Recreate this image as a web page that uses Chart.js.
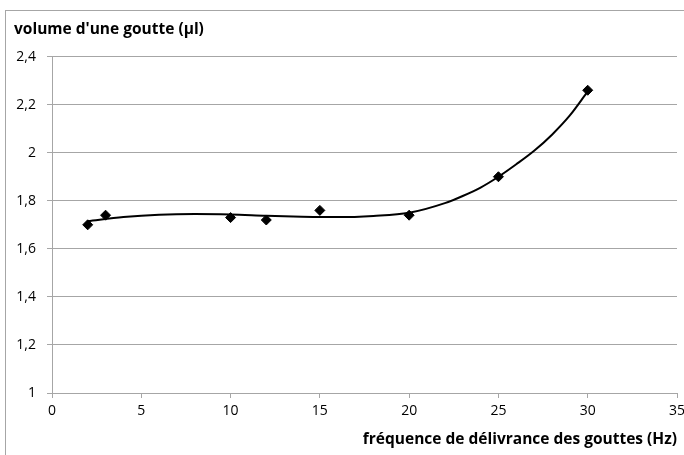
<!DOCTYPE html>
<html>
<head>
    <title>Volume d'une goutte</title>
    <script src="https://cdn.jsdelivr.net/npm/chart.js"></script>
    <style>
        html, body { margin: 0; padding: 0; background: #fff; overflow: hidden; }
        #box {
            position: absolute;
            left: 5px;
            top: 10px;
            width: 700px;
            height: 450px;
            border: 1px solid #a6a6a6;
        }
    </style>
</head>
<body>
    <div id="box">
        <canvas id="dropChart" width="700" height="450"></canvas>
    </div>
    <script>
        // mesures
        const freq = [2, 3, 10, 12, 15, 20, 25, 30];
        const volume = [1.70, 1.74, 1.73, 1.72, 1.76, 1.74, 1.90, 2.26];

        // courbe de tendance
        const trendFreq = [2, 4, 6, 8, 10, 12, 14, 16, 18, 20, 22, 23, 24, 25, 26, 27, 28, 29, 30];
        const trendVolume = [1.715, 1.732, 1.742, 1.745, 1.743, 1.738, 1.734, 1.732, 1.737, 1.750, 1.790, 1.820, 1.855, 1.900, 1.952, 2.008, 2.075, 2.155, 2.255];

        const yTitle = "volume d'une goutte (µl)";
        const xTitle = 'fréquence de délivrance des gouttes (Hz)';

        const gray = '#a6a6a6';
        const tickFont = { family: 'Open Sans', size: 14 };
        const titleFont = { family: 'Open Sans', size: 15.5, weight: 'bold' };

        const ctx = document.getElementById('dropChart').getContext('2d');
        new Chart(ctx, {
            type: 'scatter',
            data: {
                datasets: [
                    {
                        label: 'mesures',
                        data: freq.map((f, i) => ({ x: f, y: volume[i] })),
                        pointStyle: 'rectRot',
                        pointRadius: 5,
                        backgroundColor: '#000',
                        borderColor: '#000',
                        showLine: false
                    },
                    {
                        label: 'tendance',
                        data: trendFreq.map((f, i) => ({ x: f, y: trendVolume[i] })),
                        showLine: true,
                        pointRadius: 0,
                        borderColor: '#000',
                        borderWidth: 2,
                        cubicInterpolationMode: 'monotone'
                    }
                ]
            },
            options: {
                responsive: false,
                animation: false,
                layout: { padding: { left: 8, right: 29, top: 0, bottom: 12 } },
                plugins: {
                    legend: { display: false },
                    tooltip: { enabled: false },
                    title: {
                        display: true,
                        text: yTitle,
                        align: 'start',
                        color: '#000',
                        font: titleFont,
                        padding: { top: 9, bottom: 18 }
                    }
                },
                scales: {
                    x: {
                        type: 'linear',
                        min: 0,
                        max: 35,
                        afterFit: scale => { scale.height = 56; },
                        ticks: {
                            stepSize: 5,
                            color: '#000',
                            font: tickFont,
                            padding: 5
                        },
                        grid: { drawOnChartArea: false, tickLength: 5, color: gray },
                        border: { color: gray },
                        title: {
                            display: true,
                            text: xTitle,
                            align: 'end',
                            color: '#000',
                            font: titleFont,
                            padding: { top: 2, bottom: 0 }
                        }
                    },
                    y: {
                        min: 1,
                        max: 2.4,
                        afterFit: scale => { scale.width = 38; },
                        ticks: {
                            stepSize: 0.2,
                            color: '#000',
                            font: tickFont,
                            padding: 11,
                            callback: v => String(Math.round(v * 10) / 10).replace('.', ',')
                        },
                        grid: { tickLength: 5, color: gray },
                        border: { color: gray }
                    }
                }
            }
        });
    </script>
</body>
</html>
